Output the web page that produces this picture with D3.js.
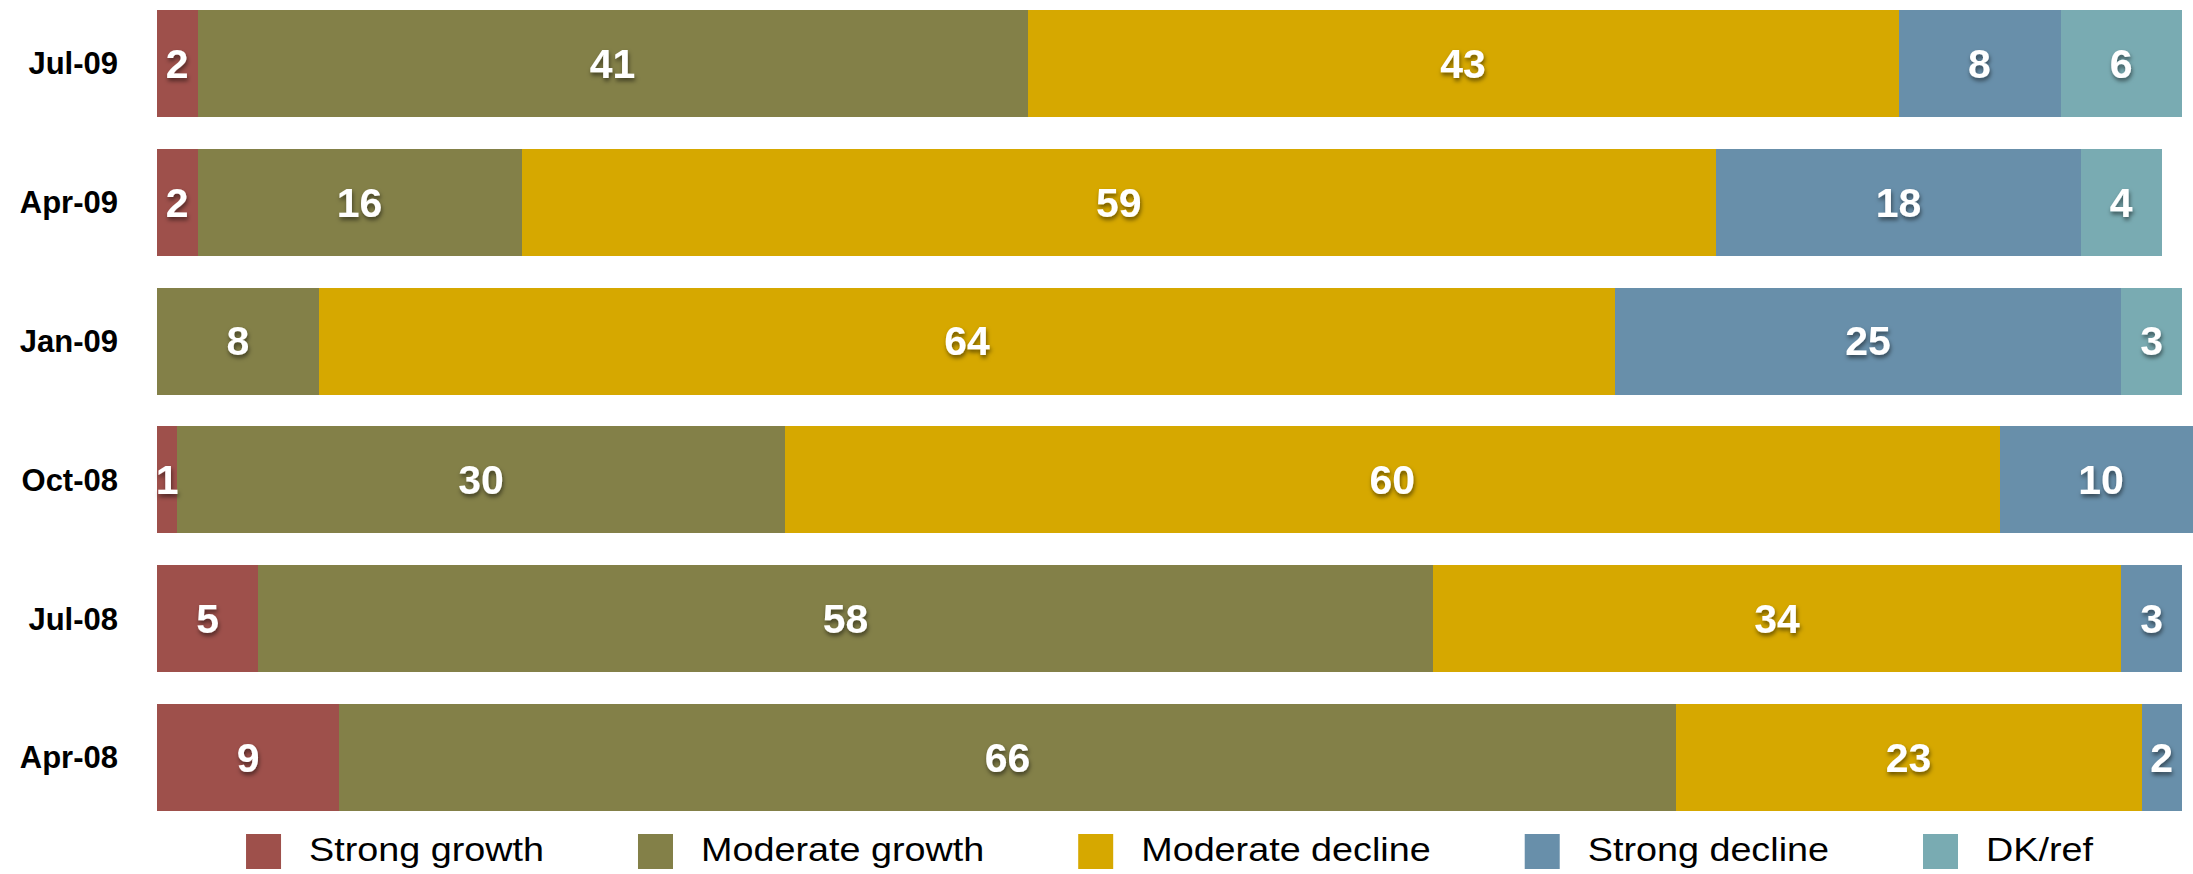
<!DOCTYPE html>
<html>
<head>
<meta charset="utf-8">
<script src="https://cdn.jsdelivr.net/npm/d3@7"></script>
<style>
  html, body { margin: 0; padding: 0; background: #fff; }
  svg { display: block; }
</style>
</head>
<body>
<svg id="chart" width="2193" height="874"></svg>
<script>
// ---- data ----
const categories = ["Jul-09", "Apr-09", "Jan-09", "Oct-08", "Jul-08", "Apr-08"];
const seriesNames = ["Strong growth", "Moderate growth", "Moderate decline", "Strong decline", "DK/ref"];
const strongGrowth    = [2, 2, 0, 1, 5, 9];
const moderateGrowth  = [41, 16, 8, 30, 58, 66];
const moderateDecline = [43, 59, 64, 60, 34, 23];
const strongDecline   = [8, 18, 25, 10, 3, 2];
const dkRef           = [6, 4, 3, 0, 0, 0];
const seriesColors = ["#9E504B", "#838048", "#D6A800", "#688FAA", "#79ABB2"];

const seriesValues = [strongGrowth, moderateGrowth, moderateDecline, strongDecline, dkRef];

// table for stack
const table = categories.map((c, i) => {
  const row = { category: c };
  seriesNames.forEach((s, k) => row[s] = seriesValues[k][i]);
  return row;
});

const svg = d3.select("#chart");

const x = d3.scaleLinear().domain([0, 100]).range([157, 2182]);
const y = d3.scaleBand().domain(categories).range([10, 811]).paddingInner(0.229).paddingOuter(0);
const color = d3.scaleOrdinal().domain(seriesNames).range(seriesColors);

const defs = svg.append("defs");
const f = defs.append("filter").attr("id", "shadow")
  .attr("x", "-50%").attr("y", "-50%").attr("width", "200%").attr("height", "200%");
f.append("feDropShadow").attr("dx", 1).attr("dy", 3).attr("stdDeviation", 2.2)
  .attr("flood-color", "#000").attr("flood-opacity", 0.5);

const stacked = d3.stack().keys(seriesNames)(table);

const layers = svg.append("g").selectAll("g.layer")
  .data(stacked).join("g")
  .attr("class", "layer")
  .attr("fill", d => color(d.key));

layers.selectAll("rect")
  .data(d => d.filter(p => p[1] - p[0] > 0))
  .join("rect")
  .attr("shape-rendering", "crispEdges")
  .attr("x", d => x(d[0]))
  .attr("y", d => y(d.data.category))
  .attr("width", d => x(d[1]) - x(d[0]))
  .attr("height", y.bandwidth());

// value labels
const labels = svg.append("g").attr("filter", "url(#shadow)");
stacked.forEach(layer => {
  layer.filter(p => p[1] - p[0] > 0).forEach(p => {
    labels.append("text")
      .attr("x", (x(p[0]) + x(p[1])) / 2)
      .attr("y", y(p.data.category) + y.bandwidth() / 2)
      .attr("dy", "0.35em")
      .attr("text-anchor", "middle")
      .attr("font-family", "'Liberation Sans', Arial, Helvetica, sans-serif")
      .attr("font-weight", "bold")
      .attr("font-size", 41)
      .attr("fill", "#fff")
      .text(p[1] - p[0]);
  });
});

// category axis
const yAxis = d3.axisLeft(y).tickSize(0).tickPadding(0);
const ax = svg.append("g").attr("transform", "translate(118,0)").call(yAxis);
ax.select(".domain").remove();
ax.selectAll("text")
  .attr("font-family", "'Liberation Sans', Arial, Helvetica, sans-serif")
  .attr("font-weight", "bold")
  .attr("font-size", 31)
  .attr("fill", "#000")
  .attr("dy", "0.35em");

// legend
const legend = svg.append("g");
const sw = 35, gapText = 28, gapItem = 94, stretch = 1.11;
const items = legend.selectAll("g.item").data(seriesNames).join("g").attr("class", "item");
items.append("rect").attr("width", sw).attr("height", sw).attr("y", 834)
  .attr("fill", d => color(d));
const texts = items.append("text")
  .attr("y", 861)
  .attr("x", sw + gapText)
  .attr("font-family", "'Liberation Sans', Arial, Helvetica, sans-serif")
  .attr("font-size", 34)
  .attr("fill", "#000")
  .text(d => d);
const widths = [];
texts.each(function() {
  const w = this.getComputedTextLength() * stretch;
  d3.select(this).attr("textLength", w).attr("lengthAdjust", "spacingAndGlyphs");
  widths.push(w);
});
const itemWidths = widths.map(w => sw + gapText + w);
const total = d3.sum(itemWidths) + gapItem * (itemWidths.length - 1);
const mid = (x.range()[0] + x.range()[1]) / 2;
let cursor = mid - total / 2;
items.each(function(d, i) {
  d3.select(this).attr("transform", `translate(${cursor},0)`);
  cursor += itemWidths[i] + gapItem;
});
</script>
</body>
</html>
